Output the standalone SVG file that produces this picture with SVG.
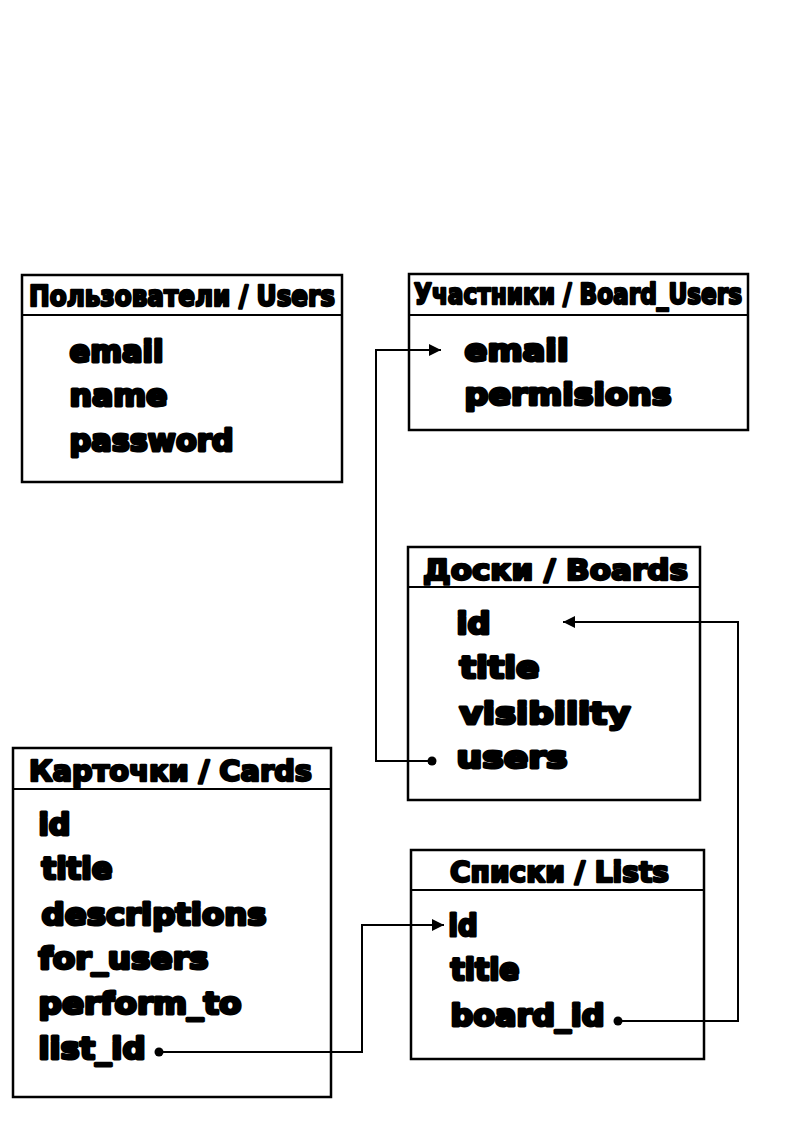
<svg xmlns="http://www.w3.org/2000/svg" width="794" height="1123" viewBox="0 0 794 1123">
<defs>
<marker id="arr" viewBox="0 0 12 12" refX="12" refY="6" markerWidth="12" markerHeight="12" markerUnits="userSpaceOnUse" orient="auto">
<path d="M0,0 L12,6 L0,12 Z" fill="#000"/>
</marker>
<marker id="dot" viewBox="0 0 10 10" refX="5" refY="5" markerWidth="10" markerHeight="10" markerUnits="userSpaceOnUse">
<circle cx="5" cy="5" r="4.5" fill="#000"/>
</marker>
</defs>
<style>
.box{fill:#fff;stroke:#000;stroke-width:2.5}
.div{stroke:#000;stroke-width:2}
.t{font-family:"DejaVu Sans","Liberation Sans",sans-serif;font-weight:bold;fill:#000;stroke:#000;stroke-linejoin:round}
.h{font-size:29px;stroke-width:2.5}
.f{font-size:31px;stroke-width:3}
.c{fill:none;stroke:#000;stroke-width:2}
</style>
<rect width="794" height="1123" fill="#fff"/>
<g id="users">
<rect class="box" x="22" y="275" width="320" height="207"/>
<line class="div" x1="22" y1="315" x2="342" y2="315"/>
<text class="t h" x="29" y="306" textLength="306" lengthAdjust="spacingAndGlyphs">Пользователи / Users</text>
<text class="t f" x="69.5" y="362" textLength="94" lengthAdjust="spacingAndGlyphs">email</text>
<text class="t f" x="69.5" y="406" textLength="98" lengthAdjust="spacingAndGlyphs">name</text>
<text class="t f" x="69.5" y="451" textLength="164" lengthAdjust="spacingAndGlyphs">password</text>
</g>
<g id="board_users">
<rect class="box" x="409" y="274" width="339" height="156"/>
<line class="div" x1="409" y1="315" x2="748" y2="315"/>
<text class="t h" x="414" y="304" font-size="28" textLength="328" lengthAdjust="spacingAndGlyphs">Участники / Board_Users</text>
<text class="t f" x="464.5" y="361" textLength="104" lengthAdjust="spacingAndGlyphs">email</text>
<text class="t f" x="464.5" y="405" textLength="207" lengthAdjust="spacingAndGlyphs">permisions</text>
</g>
<g id="boards">
<rect class="box" x="408" y="547" width="292" height="253"/>
<line class="div" x1="408" y1="587" x2="700" y2="587"/>
<text class="t h" x="423" y="580" textLength="265" lengthAdjust="spacingAndGlyphs">Доски / Boards</text>
<text class="t f" x="456.5" y="634" textLength="34" lengthAdjust="spacingAndGlyphs">id</text>
<text class="t f" x="459.5" y="678" textLength="80" lengthAdjust="spacingAndGlyphs">title</text>
<text class="t f" x="459.5" y="724" textLength="171" lengthAdjust="spacingAndGlyphs">visibility</text>
<text class="t f" x="456.5" y="768" textLength="111" lengthAdjust="spacingAndGlyphs">users</text>
</g>
<g id="cards">
<rect class="box" x="13" y="748" width="318" height="349"/>
<line class="div" x1="13" y1="789" x2="331" y2="789"/>
<text class="t h" x="29" y="781" textLength="283" lengthAdjust="spacingAndGlyphs">Карточки / Cards</text>
<text class="t f" x="38.5" y="835" textLength="32" lengthAdjust="spacingAndGlyphs">id</text>
<text class="t f" x="41.5" y="879" textLength="71" lengthAdjust="spacingAndGlyphs">title</text>
<text class="t f" x="41.5" y="925" textLength="225" lengthAdjust="spacingAndGlyphs">descriptions</text>
<text class="t f" x="38.5" y="969" textLength="170" lengthAdjust="spacingAndGlyphs">for_users</text>
<text class="t f" x="38.5" y="1014" textLength="203" lengthAdjust="spacingAndGlyphs">perform_to</text>
<text class="t f" x="38.5" y="1059" textLength="107" lengthAdjust="spacingAndGlyphs">list_id</text>
</g>
<g id="lists">
<rect class="box" x="411" y="850" width="293" height="209"/>
<line class="div" x1="411" y1="890" x2="704" y2="890"/>
<text class="t h" x="450" y="882" textLength="219" lengthAdjust="spacingAndGlyphs">Списки / Lists</text>
<text class="t f" x="448.5" y="936" textLength="29" lengthAdjust="spacingAndGlyphs">id</text>
<text class="t f" x="450.5" y="980" textLength="69" lengthAdjust="spacingAndGlyphs">title</text>
<text class="t f" x="450.5" y="1026" textLength="154" lengthAdjust="spacingAndGlyphs">board_id</text>
</g>
<g id="connectors">
<path class="c" d="M432,761 H376 V350 H441" marker-start="url(#dot)" marker-end="url(#arr)"/>
<path class="c" d="M618,1021 H738 V622 H563" marker-start="url(#dot)" marker-end="url(#arr)"/>
<path class="c" d="M159,1052 H362 V925 H444" marker-start="url(#dot)" marker-end="url(#arr)"/>
</g>
</svg>
